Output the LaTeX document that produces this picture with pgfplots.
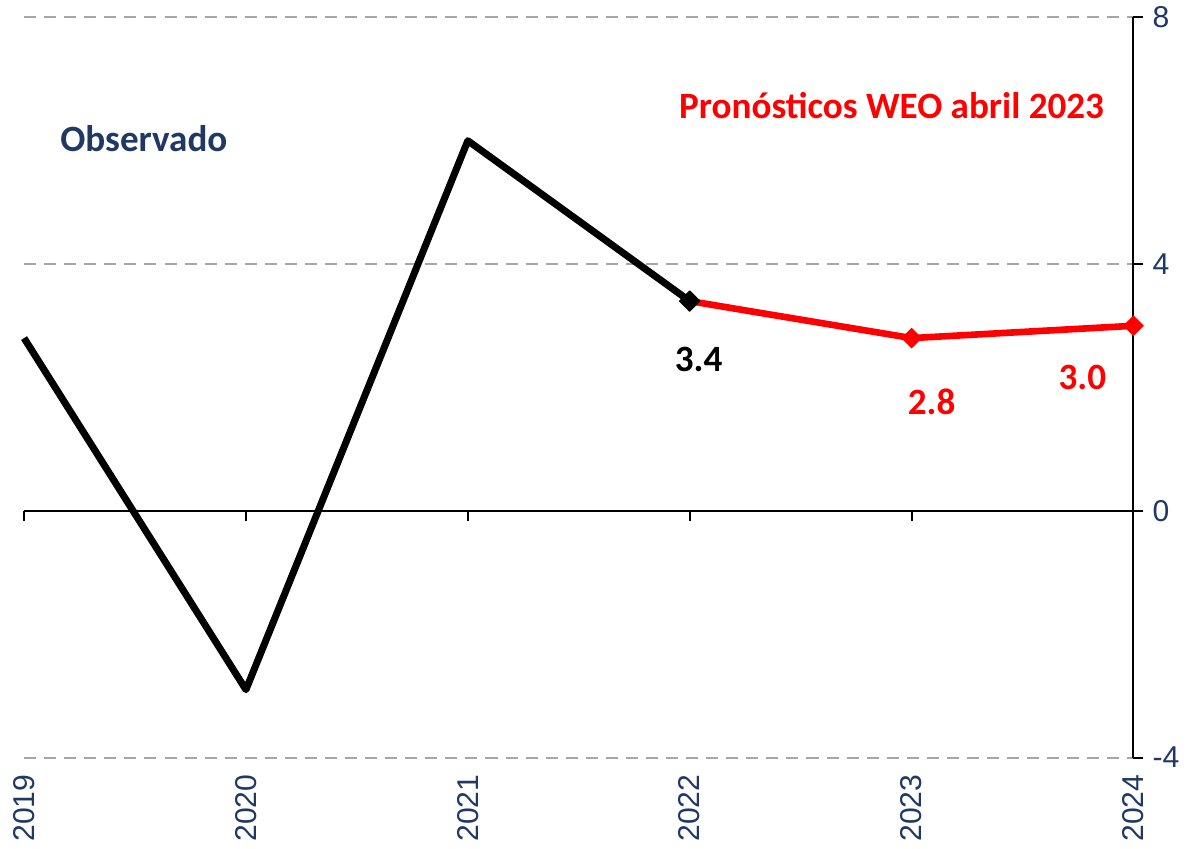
\documentclass[border=0pt]{standalone}
\usepackage{pgfplots}
\pgfplotsset{compat=1.18}
\usepackage{fontspec}
\setmainfont{Carlito}
\newfontfamily\arial{Liberation Sans}
\definecolor{navy}{HTML}{203864}
\definecolor{gridgray}{HTML}{A6A6A6}
\definecolor{fcred}{HTML}{FF0000}
\begin{document}
\begin{tikzpicture}
\begin{axis}[
    width=553pt, height=369pt, scale only axis,
    xmin=2019, xmax=2024, ymin=-4, ymax=8,
    clip=false,
    axis y line=right,
    y axis line style={-, line width=1pt},
    axis x line=bottom,
    x axis line style={draw=none},
    xtick={2019,...,2024},
    ytick={-4,0,4,8},
    xtick style={draw=none},
    ytick style={line width=1pt, black},
    tick align=outside,
    major tick length=5pt,
    ymajorgrids,
    grid style={gridgray, line width=1pt, dash pattern=on 6pt off 4pt},
    /pgf/number format/assume math mode=true,
    xticklabel={\pgfmathprintnumber[1000 sep={}]{\tick}},
    xticklabel style={rotate=90, anchor=east, font=\arial\fontsize{15}{17}\selectfont, text=navy},
    yticklabel style={font=\arial\fontsize{15}{17}\selectfont, text=navy, xshift=1pt},
]
% left margin
\path ([xshift=-12pt]axis cs:2019,0);
% zero line with downward ticks
\draw[black, line width=1pt] (axis cs:2019,0) -- (axis cs:2024,0);
\pgfplotsinvokeforeach{2019,2020,2021,2022,2023,2024}{
  \draw[black, line width=1pt] (axis cs:#1,0) -- ([yshift=-5pt]axis cs:#1,0);
}
% forecast
\addplot[fcred, line width=3.3pt, mark=square*, mark size=3.4pt,
  mark options={rotate=45, line width=0.5pt, fill=fcred, draw=fcred}, mark indices={2,3}]
  coordinates {(2022,3.4) (2023,2.8) (2024,3.0)};
% observed
\addplot[black, line width=3.5pt, line join=round, mark=square*, mark size=3.6pt,
  mark options={rotate=45, line width=0.5pt, fill=black}, mark indices={4}]
  coordinates {(2019,2.8) (2020,-2.9) (2021,6.0) (2022,3.4)};
% labels
\node[font=\bfseries\fontsize{18.5}{20}\selectfont, text=navy] at (axis cs:2019.54,6.03) {Observado};
\node[font=\bfseries\fontsize{18.5}{20}\selectfont, text=fcred] at (axis cs:2022.91,6.57) {Pronósticos WEO abril 2023};
\node[font=\bfseries\fontsize{18.5}{20}\selectfont, text=black] at (axis cs:2022.04,2.46) {3.4};
\node[font=\bfseries\fontsize{18.5}{20}\selectfont, text=fcred] at (axis cs:2023.09,1.76) {2.8};
\node[font=\bfseries\fontsize{18.5}{20}\selectfont, text=fcred] at (axis cs:2023.77,2.16) {3.0};
\end{axis}
\end{tikzpicture}
\end{document}
